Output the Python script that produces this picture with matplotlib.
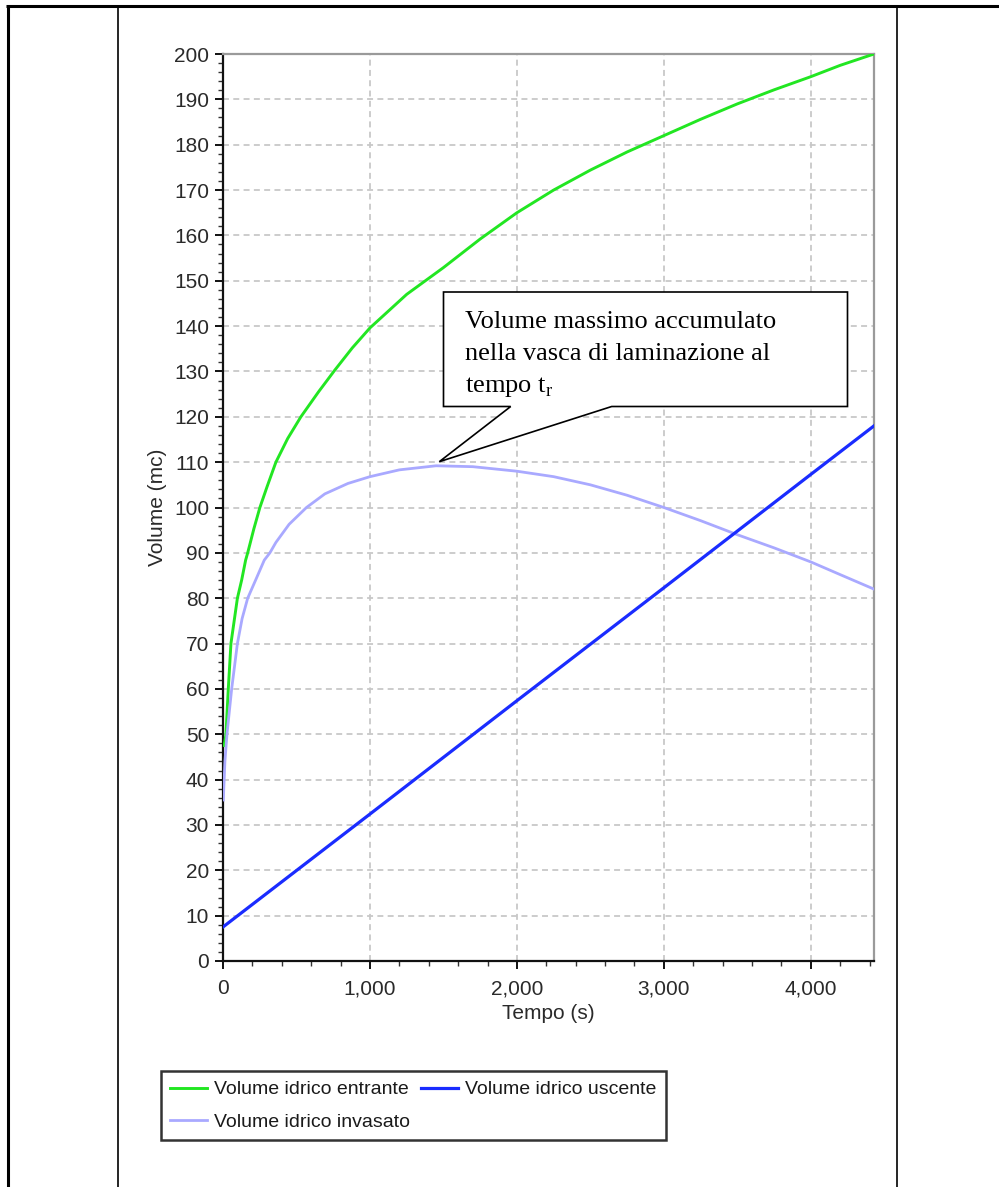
import matplotlib
matplotlib.use('Agg')
import matplotlib.pyplot as plt
from matplotlib.lines import Line2D
from matplotlib.patches import Polygon
from matplotlib.ticker import MultipleLocator, FuncFormatter

# ---- data ----
t_entrante = [8, 20, 36, 54, 98, 127, 154, 168, 210, 251, 300, 360, 440, 530, 650, 761, 880, 1000,
              1250, 1500, 1750, 2000, 2250, 2500, 2750, 3000, 3250, 3500, 3750, 4000, 4200, 4430]
v_entrante = [47.5, 50, 60, 70, 80, 84, 88.4, 90, 95.3, 100, 104.6, 110, 115.2, 120, 125.5, 130.3, 135.2, 139.6,
              147.0, 152.9, 159.2, 165, 170, 174.4, 178.4, 182, 185.6, 189, 192.1, 195, 197.5, 200]

t_uscente = [0, 1000, 2000, 3000, 4000, 4430]
v_uscente = [7.5, 32.4, 57.4, 82.3, 107.3, 118]

t_invasato = [2, 13, 27, 59, 98, 130, 168, 222, 281, 319, 360, 450, 568, 693, 850, 1000, 1200, 1450,
              1700, 2000, 2250, 2500, 2750, 3000, 3250, 3500, 3750, 4000, 4200, 4430]
v_invasato = [35.5, 44, 50, 60, 70, 75.5, 80, 84, 88.4, 90, 92.3, 96.3, 100, 103, 105.3, 106.8, 108.3, 109.2,
              109.0, 108, 106.8, 105, 102.7, 100, 97.1, 94, 91.1, 88, 85.2, 82]

series_labels = ["Volume idrico entrante", "Volume idrico uscente", "Volume idrico invasato"]
x_label = "Tempo (s)"
y_label = "Volume (mc)"
callout_lines = ["Volume massimo accumulato", "nella vasca di laminazione al", "tempo t$_\\mathregular{r}$"]

W, H = 999, 1187
fig = plt.figure(figsize=(W / 100, H / 100), dpi=100)
fig.patch.set_facecolor('white')


def fx(x):
    return x / W


def fy(y):
    return 1 - y / H


# outer table frame
frame_kw = dict(transform=fig.transFigure, color='black', solid_capstyle='butt')
fig.add_artist(Line2D([fx(6), fx(999)], [fy(5.5), fy(5.5)], lw=2.2, **frame_kw))
fig.add_artist(Line2D([fx(7.5), fx(7.5)], [fy(4.5), fy(1187)], lw=2.2, **frame_kw))
fig.add_artist(Line2D([fx(117.5), fx(117.5)], [fy(5), fy(1187)], lw=1.2, **frame_kw))
fig.add_artist(Line2D([fx(897), fx(897)], [fy(5), fy(1187)], lw=1.2, **frame_kw))

ax = fig.add_axes([fx(223), fy(961), fx(874) - fx(223), fy(54) - fy(961)])

c_in = '#22e622'
c_out = '#1a2cff'
c_inv = '#a9a9ff'

l_in, = ax.plot(t_entrante, v_entrante, color=c_in, lw=2.1, zorder=3)
l_inv, = ax.plot(t_invasato, v_invasato, color=c_inv, lw=2.0, zorder=3)
l_out, = ax.plot(t_uscente, v_uscente, color=c_out, lw=2.3, zorder=4)

ax.set_xlim(0, 4430)
ax.set_ylim(0, 200)
ax.xaxis.set_major_locator(MultipleLocator(1000))
ax.xaxis.set_minor_locator(MultipleLocator(200))
ax.yaxis.set_major_locator(MultipleLocator(10))
ax.yaxis.set_minor_locator(MultipleLocator(2))
ax.xaxis.set_major_formatter(FuncFormatter(lambda v, p: f"{int(round(v)):,}"))
ax.yaxis.set_major_formatter(FuncFormatter(lambda v, p: f"{int(round(v))}"))

ax.grid(True, which='major', color='#c8c8c8', lw=1.3, linestyle=(0, (3.3, 2.4)))
ax.set_axisbelow(True)

for s in ['left', 'bottom']:
    ax.spines[s].set_color('#111111')
    ax.spines[s].set_linewidth(1.6)
for s in ['top', 'right']:
    ax.spines[s].set_color('#9a9a9a')
    ax.spines[s].set_linewidth(1.6)

ax.tick_params(which='major', direction='out', length=6, width=1.4, color='#111111',
               labelsize=15, labelcolor='#2a2a2a', pad=4)
ax.tick_params(which='minor', direction='out', length=3.5, width=1.0, color='#333333')
ax.tick_params(axis='x', which='major', pad=7)
for lab in ax.get_xticklabels() + ax.get_yticklabels():
    lab.set_fontfamily(['Liberation Sans', 'DejaVu Sans'])

ax.set_xlabel(x_label, fontsize=15, family=['Liberation Sans', 'DejaVu Sans'], color='#2a2a2a', labelpad=4)
ax.set_ylabel(y_label, fontsize=15, family=['Liberation Sans', 'DejaVu Sans'], color='#2a2a2a', labelpad=5)

# callout box (figure pixel coordinates)
callout_px = [(443.5, 292), (847.5, 292), (847.5, 406.5), (611.7, 406.5), (439.3, 461.7),
              (510.7, 406.5), (443.5, 406.5)]
poly = Polygon([(fx(x), fy(y)) for x, y in callout_px], closed=True, transform=fig.transFigure,
               facecolor='white', edgecolor='black', lw=1.2, zorder=10)
fig.add_artist(poly)
for i, line in enumerate(callout_lines):
    fig.text(fx(465), fy(327.7 + i * 32), line, fontsize=19,
             family=['Liberation Serif', 'DejaVu Serif'], va='baseline', ha='left', zorder=11)

leg = fig.legend([l_in, l_inv, l_out], [series_labels[0], series_labels[2], series_labels[1]],
                 ncol=2, loc='upper left', bbox_to_anchor=(fx(160.7), fy(1071)),
                 borderaxespad=0, frameon=True, fancybox=False, edgecolor='black',
                 prop=dict(family=['Liberation Sans', 'DejaVu Sans'], size=14),
                 handlelength=1.9, handletextpad=0.33, columnspacing=0.6,
                 labelspacing=0.75, borderpad=0.5)
leg.get_frame().set_linewidth(1.8)
for txt in leg.get_texts():
    txt.set_color('#1a1a1a')

fig.savefig('out.png', dpi=100)
